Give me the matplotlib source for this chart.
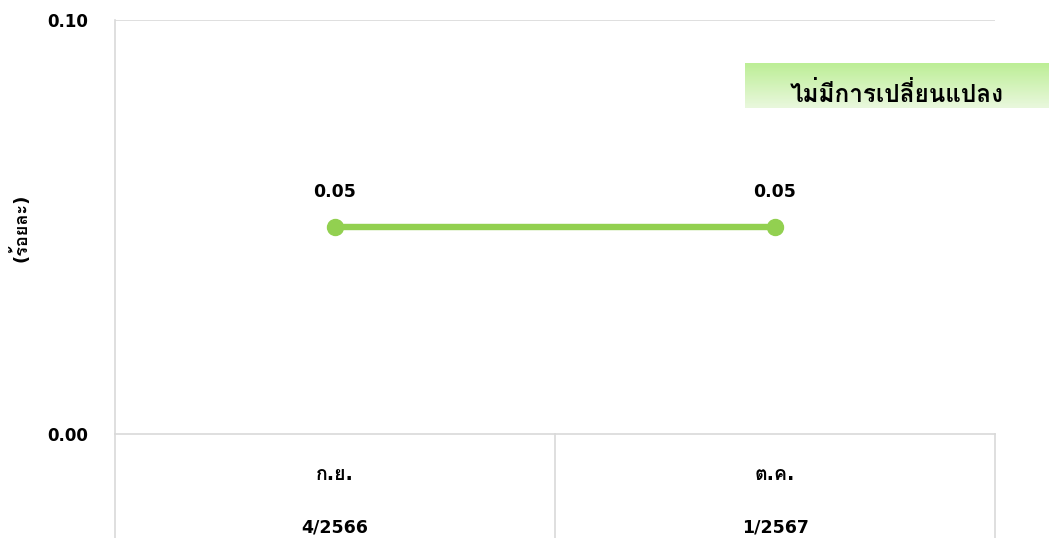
import matplotlib
matplotlib.use("Agg")
import numpy as np
import matplotlib.pyplot as plt
import matplotlib.transforms as mtransforms
from matplotlib.colors import LinearSegmentedColormap

plt.rcParams['font.family'] = ['DejaVu Sans', 'Loma']
plt.rcParams['font.weight'] = 'bold'

# data
months = ['ก.ย.', 'ต.ค.']
quarters = ['4/2566', '1/2567']
values = [0.05, 0.05]
value_labels = ['0.05', '0.05']
note = 'ไม่มีการเปลี่ยนแปลง'
y_label = '(ร้อยละ)'

W, H = 1049, 538
fig = plt.figure(figsize=(W / 100, H / 100), dpi=100)
ax = fig.add_axes([115 / W, 1 - 434 / H, (995 - 115) / W, (434 - 20) / H])

grid_c = '#d9d9d9'
x = np.arange(len(months))
ax.plot(x, values, color='#92d050', lw=4.6, marker='o', ms=11.5, zorder=3)
for xi, v, lab in zip(x, values, value_labels):
    ax.annotate(lab, (xi, v), xytext=(0, 25), textcoords='offset points',
                ha='center', va='center', fontsize=12.5)

ax.set_xlim(-0.5, len(months) - 0.5)
ax.set_ylim(0, 0.1)
ax.set_yticks([0, 0.1])
ax.set_yticklabels(['0.00', '0.10'], fontsize=12)
ax.tick_params(axis='y', length=0, pad=19.5)
ax.set_xticks([])
ax.axhline(0.1, color=grid_c, lw=1.2)
for s in ['top', 'right']:
    ax.spines[s].set_visible(False)
for s in ['left', 'bottom']:
    ax.spines[s].set_color(grid_c)
    ax.spines[s].set_linewidth(1.2)

# category area below the axis
trans = mtransforms.blended_transform_factory(ax.transData, ax.transAxes)
low = -(H - 434) / (434 - 20) - 0.02
for xb in [-0.5, 0.5, 1.5]:
    ax.plot([xb, xb], [0, low], transform=trans, color=grid_c, lw=1.2, clip_on=False)
for xi, m, q in zip(x, months, quarters):
    ax.text(xi, -(475 - 434) / 414, m, transform=trans, ha='center', va='center',
            fontsize=14)
    ax.text(xi, -(527 - 434) / 414, q, transform=trans, ha='center', va='center',
            fontsize=12.5)

fig.text(20 / W, 1 - 228 / H, y_label, rotation=90, ha='center', va='center',
         fontsize=13)

# note box with gradient
bx = fig.add_axes([745 / W, 1 - 108 / H, (W - 745) / W, 45 / H])
cmap = LinearSegmentedColormap.from_list('g', ['#bdee96', '#e9f8dd'])
bx.imshow(np.linspace(0, 1, 50).reshape(-1, 1), aspect='auto', cmap=cmap,
          extent=[0, 1, 0, 1], origin='upper')
bx.set_xlim(0, 1)
bx.set_ylim(0, 1)
bx.axis('off')
bx.text(0.5, 0.3, note, ha='center', va='center', fontsize=17.5)

fig.savefig('out.png', dpi=100)
